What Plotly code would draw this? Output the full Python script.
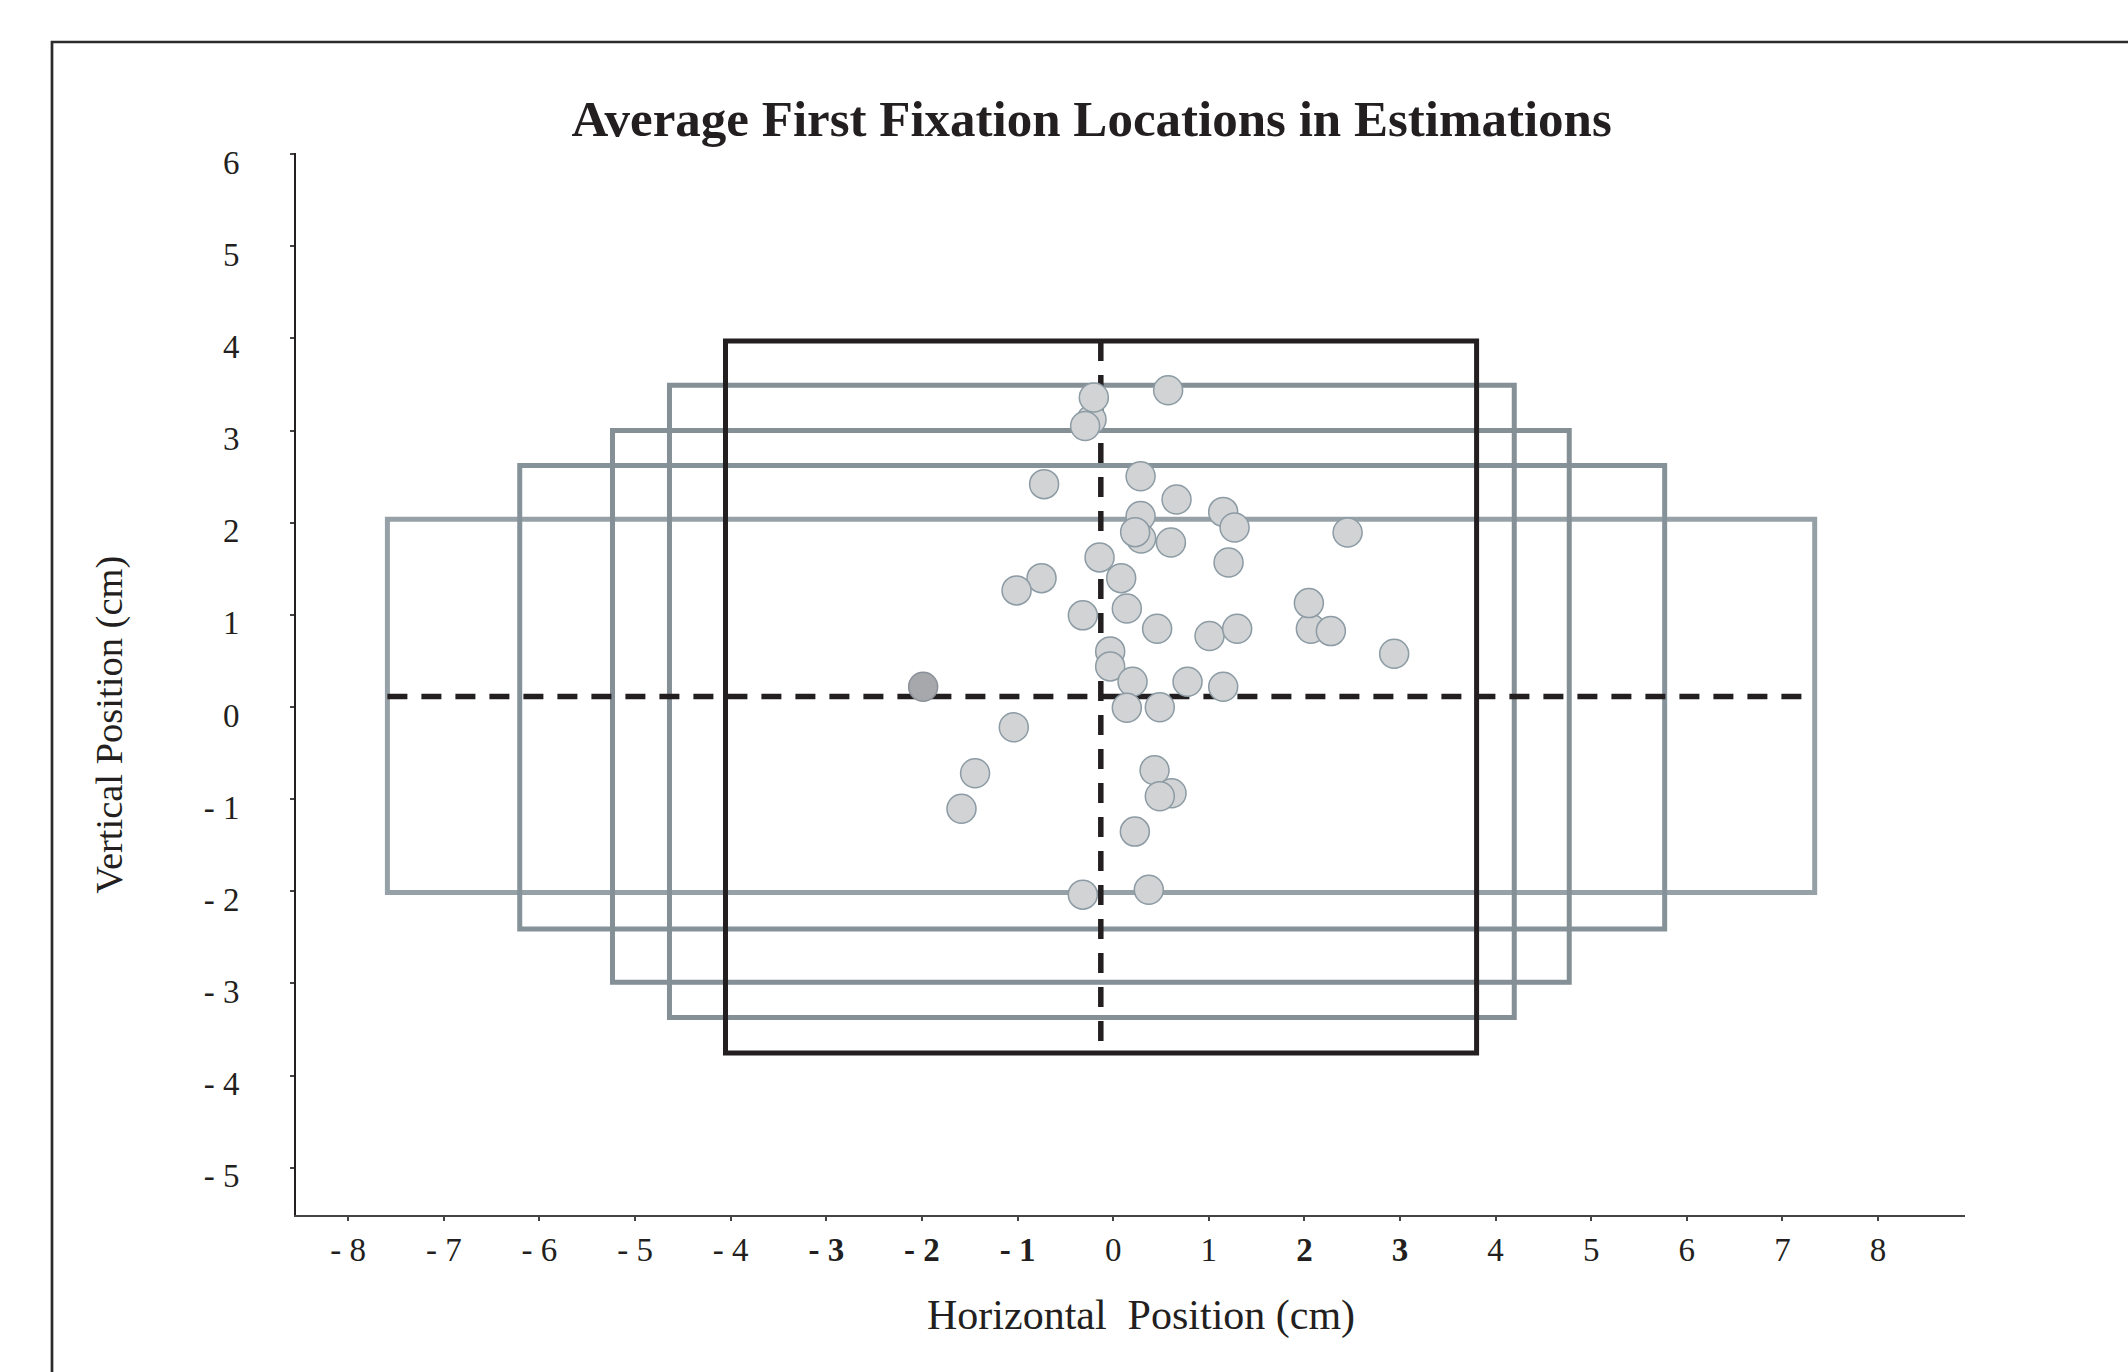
import plotly.graph_objects as go

# ---------------- data ----------------
# fixation points (cm)
pt_x = [-0.226, -0.202, -0.293, 0.575, -0.722, 0.287, 0.663, 1.151, 1.270,
        0.287, 0.293, 0.230, 0.604, 2.452, -0.142, 1.207, 0.084, -0.749,
        -1.010, -0.317, 0.143, 0.460, 1.008, 1.297, 2.068, 2.047, 2.277,
        2.939, -0.031, -0.031, 0.203, 0.778, 1.151, 0.143, 0.488, -1.039,
        0.433, 0.611, 0.488, 0.227, -0.317, 0.373, -1.444, -1.586]
pt_y = [3.120, 3.359, 3.051, 3.438, 2.419, 2.505, 2.253, 2.118, 1.949,
        2.072, 1.830, 1.898, 1.786, 1.895, 1.624, 1.569, 1.399, 1.399,
        1.266, 0.995, 1.070, 0.849, 0.770, 0.849, 0.849, 1.128, 0.824,
        0.578, 0.604, 0.441, 0.274, 0.274, 0.220, -0.008, -0.003, -0.220,
        -0.687, -0.936, -0.969, -1.352, -2.036, -1.982, -0.719, -1.103]

# highlighted (darker) point
dark_x = [-1.987]
dark_y = [0.220]

# nested rectangles (cm): left, right, bottom, top
rect_x0 = [-7.590, -6.206, -5.236, -4.640]
rect_x1 = [7.337, 5.768, 4.770, 4.195]
rect_y0 = [-2.014, -2.408, -2.986, -3.370]
rect_y1 = [2.039, 2.621, 3.001, 3.492]
rect_colors = ["#96a1a7", "#86929a", "#848f96", "#858f96"]

# central (black) rectangle
black_x0, black_x1 = -4.054, 3.801
black_y0, black_y1 = -3.756, 3.973

# dashed cross lines
vline_x = -0.129
hline_y = 0.115

# axis ticks
x_ticks = list(range(-8, 9))
x_ticktext = ["- 8", "- 7", "- 6", "- 5", "- 4", "<b>- 3</b>", "<b>- 2</b>", "<b>- 1</b>",
              "0", "1", "<b>2</b>", "<b>3</b>", "4", "5", "6", "7", "8"]
y_ticks = list(range(-5, 7))
y_ticktext = ["- 5", "- 4", "- 3", "- 2", "- 1", "0", "1", "2", "3", "4", "5", "6"]

title_text = "Average First Fixation Locations in Estimations"
x_title = "Horizontal\u00a0 Position (cm)"
y_title = "Vertical Position (cm)"

# ---------------- figure ----------------
FONT = "Liberation Serif, Times New Roman, serif"
TXT = "#231f20"

fig = go.Figure()

shapes = []
for x0, x1, y0, y1, c in zip(rect_x0, rect_x1, rect_y0, rect_y1, rect_colors):
    shapes.append(dict(type="rect", xref="x", yref="y", x0=x0, x1=x1, y0=y0, y1=y1,
                       line=dict(color=c, width=5), layer="below"))
shapes.append(dict(type="rect", xref="x", yref="y", x0=black_x0, x1=black_x1,
                   y0=black_y0, y1=black_y1, line=dict(color=TXT, width=5), layer="below"))
shapes.append(dict(type="line", xref="x", yref="y", x0=rect_x0[0], x1=rect_x1[0],
                   y0=hline_y, y1=hline_y,
                   line=dict(color=TXT, width=5.5, dash="20px,14px"), layer="below"))
shapes.append(dict(type="line", xref="x", yref="y", x0=vline_x, x1=vline_x,
                   y0=black_y1, y1=black_y0,
                   line=dict(color=TXT, width=5.5, dash="20px,14px"), layer="below"))
# outer figure frame (top and left edges)
shapes.append(dict(type="path", xref="paper", yref="paper",
                   path="M -0.1462 -0.2 L -0.1462 1.1045 L 1.2 1.1045",
                   line=dict(color="#2b2b2b", width=2.7)))

fig.add_trace(go.Scatter(
    x=pt_x, y=pt_y, mode="markers",
    marker=dict(size=29, color="#d1d3d4", line=dict(color="#8c9ba4", width=1.5)),
    showlegend=False, hoverinfo="skip"))
fig.add_trace(go.Scatter(
    x=dark_x, y=dark_y, mode="markers",
    marker=dict(size=29, color="#a6a8ab", line=dict(color="#8c9199", width=1.5)),
    showlegend=False, hoverinfo="skip"))

fig.update_layout(
    width=2128, height=1372, autosize=False,
    margin=dict(l=296, r=163, t=153, b=157),
    paper_bgcolor="white", plot_bgcolor="white",
    shapes=shapes,
    title=dict(text=title_text, xref="container", yref="container",
               x=0.513, xanchor="center", y=0.914, yanchor="middle",
               font=dict(family=FONT, size=51, color=TXT, weight="bold")),
    font=dict(family=FONT, color=TXT),
    annotations=[
        dict(text=x_title, xref="paper", yref="paper", x=0.5063, y=-0.0948,
             xanchor="center", yanchor="middle", showarrow=False,
             font=dict(family=FONT, size=42, color=TXT)),
        dict(text=y_title, xref="paper", yref="paper", x=-0.112, y=0.4618,
             xanchor="center", yanchor="middle", showarrow=False, textangle=-90,
             font=dict(family=FONT, size=38.5, color=TXT)),
    ],
)

fig.update_xaxes(range=[-8.546, 8.909], tickvals=x_ticks, ticktext=x_ticktext,
                 showline=True, linecolor="#444444", linewidth=2,
                 ticks="outside", ticklen=4, tickwidth=1.5, tickcolor="#444444",
                 showgrid=False, zeroline=False,
                 tickfont=dict(family=FONT, size=33, color=TXT))
fig.update_yaxes(range=[-5.513, 6.013], tickvals=y_ticks, ticktext=y_ticktext,
                 showline=True, linecolor=TXT, linewidth=2,
                 ticks="outside", ticklen=4, tickwidth=1.5, tickcolor="#444444",
                 showgrid=False, zeroline=False, ticklabelstandoff=44, ticklabelshift=8,
                 tickfont=dict(family=FONT, size=33, color=TXT))

fig.write_html("out.html")
